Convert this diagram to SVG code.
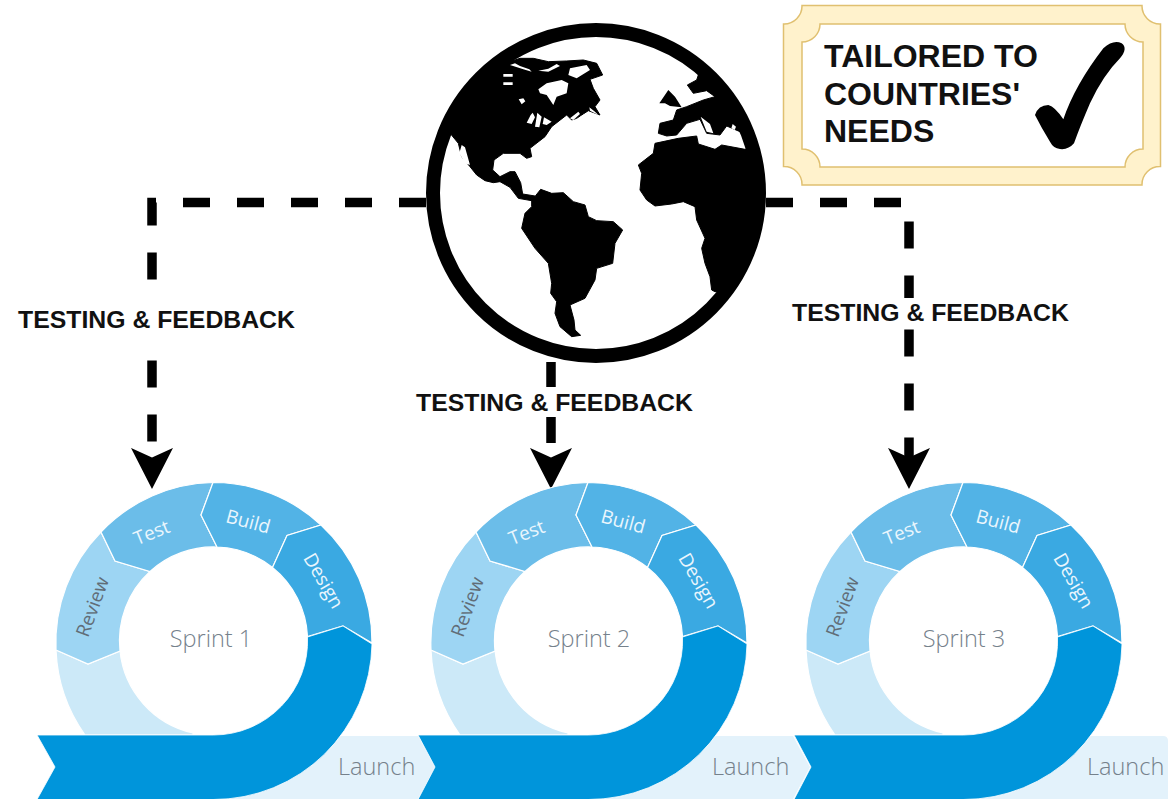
<svg xmlns="http://www.w3.org/2000/svg" width="1169" height="799" viewBox="0 0 1169 799">
<style>
.conn{fill:none;stroke:#000;stroke-width:9.5;stroke-dasharray:27 27}
.lbl{font:bold 24.8px "Liberation Sans",Arial,sans-serif;fill:#111;text-anchor:middle}
.note{font:bold 32px "Liberation Sans",Arial,sans-serif;fill:#111}
.seg{stroke:#fff;stroke-width:1.2}
.rt{font:19px "Open Sans",sans-serif;text-anchor:middle}
.sp{font:300 23.500px "Open Sans",sans-serif;fill:#75818b;text-anchor:middle}
.la{font:300 23.500px "Open Sans",sans-serif;fill:#75818b}
.bn{fill:#e3f2fb}
.dk{fill:#0095db;stroke:#fff;stroke-width:.8}
.land{fill:#000;stroke:#000;stroke-width:3;stroke-linejoin:round}
</style>
<defs>
<marker id="ah" markerUnits="userSpaceOnUse" markerWidth="42" markerHeight="42" viewBox="0 -20 40 40" refX="21" refY="0" orient="auto">
<path d="M0-20L9 0L0 20L39 0Z" fill="#000"/>
</marker>
<clipPath id="gc"><circle cx="525" cy="579" r="505"/></clipPath>
<g id="ring">
<path class="seg" fill="#cce9f8" d="M56 650L88 664L120 651A94 94 0 0 0 193 733V735H85A158.500 158.500 0 0 1 56 650Z"/>
<path class="seg" fill="#9dd5f3" d="M56 650L88 664L120 651A94 94 0 0 1 150 571.500L115 561L101 532A158.500 158.500 0 0 0 56 650Z"/>
<path class="seg" fill="#6bbde9" d="M101 532A158.500 158.500 0 0 1 213 482.500L201 515L217 547A94 94 0 0 0 150 571.500L115 561Z"/>
<path class="seg" fill="#52b3e6" d="M213 482.500A158.500 158.500 0 0 1 321 525L287 535.500L272.500 567.500A94 94 0 0 0 217 547L201 515Z"/>
<path class="seg" fill="#3aa9e2" d="M321 525A158.500 158.500 0 0 1 372 643L343 626L307.500 636.500A94 94 0 0 0 272.500 567.500L287 535.500Z"/>
<text class="rt" fill="#616d77" transform="translate(93 607) rotate(-70)" y="6">Review</text>
<text class="rt" fill="#eaf6fd" transform="translate(152 533) rotate(-22)" y="6">Test</text>
<text class="rt" fill="#eaf6fd" transform="translate(248 522) rotate(15)" y="6">Build</text>
<text class="rt" fill="#eaf6fd" transform="translate(323 581) rotate(60)" y="6">Design</text>
</g>
</defs>
<rect width="1169" height="799" fill="#fff"/>

<g id="connectors">
<path class="conn" d="M426 202.500H152V470" marker-end="url(#ah)"/>
<path class="conn" d="M551 362V470" marker-end="url(#ah)"/>
<path class="conn" d="M766 202.500H909V470" marker-end="url(#ah)"/>
<rect x="18" y="305" width="277" height="33" fill="#fff"/>
<rect x="416" y="387" width="277" height="30" fill="#fff"/>
<rect x="792" y="298" width="277" height="30" fill="#fff"/>
<text class="lbl" x="156.500" y="328">TESTING &amp; FEEDBACK</text>
<text class="lbl" x="554.500" y="411">TESTING &amp; FEEDBACK</text>
<text class="lbl" x="930.500" y="321">TESTING &amp; FEEDBACK</text>
</g>

<g id="globe">
<circle cx="596" cy="193" r="163" fill="#fff" stroke="#000" stroke-width="14"/>
<g transform="translate(420 0) scale(.33333)" clip-path="url(#gc)">
<path class="land" d="M50 400L92 402L115 430L125 470L150 500L170 525L195 542L220 548L240 545L270 562L295 595L340 603L345 588L308 582L302 548L285 515L270 515L240 530L218 510L222 480L250 460L300 460L320 475L335 470L330 445L375 410L395 380L440 345L455 360L470 355L505 332L540 345L525 320L540 300L520 265L510 238L548 225L530 190L490 180L440 183L385 185L340 175L300 175L255 190L150 150Z"/>
<path class="land" d="M335 602L362 568L395 580L430 578L460 605L495 615L505 650L530 662L580 665L608 690L585 730L578 790L530 805L525 840L495 895L450 915L462 960L465 990L482 1006L455 1010L420 980L405 940L410 905L392 880L395 850L385 790L345 745L305 685L315 640L335 620Z"/>
<path class="land" d="M705 430L775 415L830 408L835 432L885 448L905 435L975 448L1100 400L1100 900L885 875L875 870L870 830L855 790L845 745L855 715L830 660L825 620L790 605L755 612L705 618L680 600L660 570L665 520L655 495L700 460Z"/>
<path class="land" d="M835 225L830 240L802 255L820 280L860 272L885 290L850 300L800 320L770 330L760 360L720 370L715 400L740 408L770 405L800 370L840 358L860 400L900 405L920 378L960 395L1000 410L1060 400L960 220Z"/>
<path fill="#000" d="M718 310L745 270L765 290L785 322L750 318L735 310Z"/>
<path fill="#fff" d="M842 350L870 372L880 400L860 395ZM938 372L948 380L944 390L934 385ZM355 268L380 250L425 240L445 250L440 280L410 290L400 315L380 285L360 280ZM270 195L310 208L335 215L328 208L300 198L285 190ZM355 212L385 206L410 192L420 198L385 215ZM450 205L500 195L510 210L470 235L445 225ZM250 222H278V230H250ZM250 247H278V255H250ZM296 298L310 295L316 304L305 313ZM320 368L332 345L338 338L345 352L335 372ZM352 338L365 350L358 382L345 380ZM372 352L395 365L380 375L368 372ZM450 355L475 335L480 342L460 360ZM480 350L498 340L495 352ZM508 322L525 335L535 345L510 332ZM125 435L135 442L150 495L135 490L118 460Z"/>
</g>
</g>

<g id="note">
<path fill="#fff2cc" stroke="#e0c070" stroke-width="1.500" d="M802 5.500H1142A18 18 0 0 0 1160.500 24V166.500A18 18 0 0 0 1142 185H802A18 18 0 0 0 783.500 166.500V24A18 18 0 0 0 802 5.500Z"/>
<path fill="#fff" stroke="#e0c070" stroke-width="1.500" d="M820 24H1125A18 18 0 0 0 1143 42V149A18 18 0 0 0 1125 167H820A18 18 0 0 0 802 149V42A18 18 0 0 0 820 24Z"/>
<text class="note" x="824" y="67">TAILORED TO</text>
<text class="note" x="824" y="104.500">COUNTRIES'</text>
<text class="note" x="824" y="142">NEEDS</text>
<path transform="translate(770 0) scale(.33333)" fill="#000" d="M795 345Q805 315 835 315Q855 320 880 358Q915 255 1000 145Q1030 118 1055 130Q1075 145 1050 175Q1000 225 960 310Q930 380 912 430Q895 450 870 447Q850 445 840 425Q815 385 795 345Z"/>
</g>

<g id="sprint1">
<path class="bn" d="M300 736H418L435 767L418 799H200Z"/>
<use href="#ring"/>
<path class="dk" d="M307.500 637L343 626L372 644A158.500 158.500 0 0 1 213.500 799.500H37L55 767L37 735H213.500A94 94 0 0 0 307.500 637Z"/>
<text class="sp" x="211" y="647">Sprint 1</text>
<text class="la" x="338" y="775">Launch</text>
</g>
<g id="sprint2">
<path class="bn" d="M675 736H793L810 767L793 799H575Z"/>
<use href="#ring" x="375"/>
<path class="dk" d="M682.500 637L718 626L747 644A158.500 158.500 0 0 1 588.500 799.500H418L435 767L418 735H588.500A94 94 0 0 0 682.500 637Z"/>
<text class="sp" x="589" y="647">Sprint 2</text>
<text class="la" x="712" y="775">Launch</text>
</g>
<g id="sprint3">
<path class="bn" d="M1050 736H1163Q1168 736 1168 741V799H950Z"/>
<use href="#ring" x="750"/>
<path class="dk" d="M1057.500 637L1093 626L1122 644A158.500 158.500 0 0 1 963.500 799.500H794L811 767L794 735H963.500A94 94 0 0 0 1057.500 637Z"/>
<text class="sp" x="964" y="647">Sprint 3</text>
<text class="la" x="1087" y="775">Launch</text>
</g>
</svg>
